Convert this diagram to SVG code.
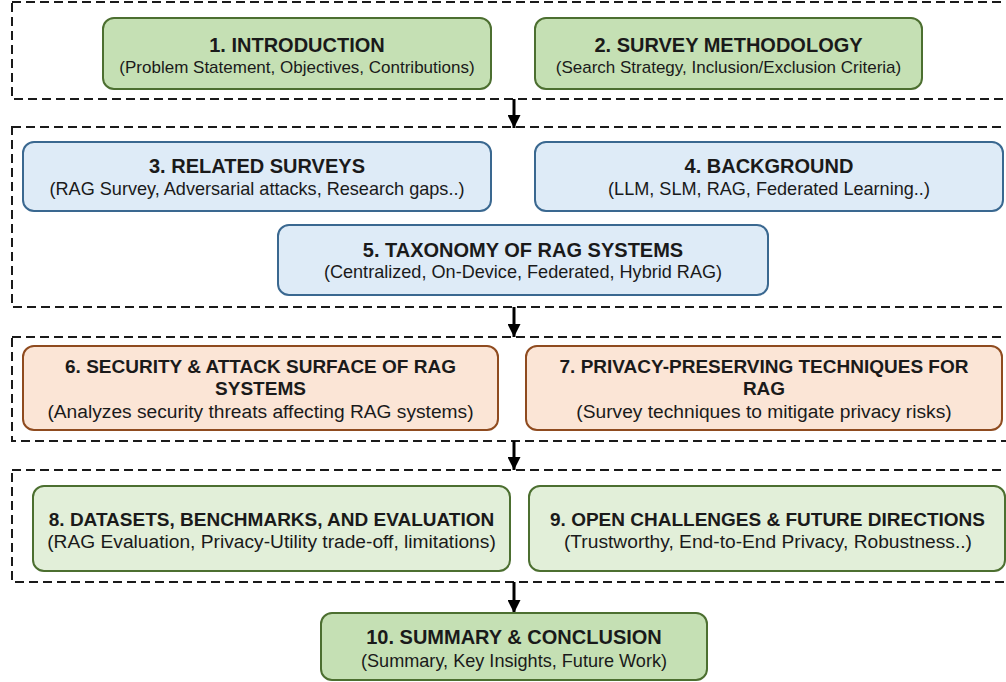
<svg xmlns="http://www.w3.org/2000/svg" width="1006" height="682" viewBox="0 0 1006 682">
<defs>
<style>
.grp{fill:none;stroke:#1a1a1a;stroke-width:2;stroke-dasharray:9,5}
.box{stroke-width:2}
.g1{fill:#c5e0b4;stroke:#4c6f30}
.g2{fill:#e2efd9;stroke:#4c6f30}
.bl{fill:#deebf7;stroke:#3a6890}
.or{fill:#fbe5d6;stroke:#8f4b1f}
text{font-family:"Liberation Sans",Arial,Helvetica,sans-serif;fill:#1a1a1a;text-anchor:middle}
.t{font-weight:bold;font-size:20px}
.t19{font-weight:bold;font-size:19px}
.s17{font-size:17px}
.s18{font-size:18.1px}
.s19{font-size:19.2px}
.arr{stroke:#000;stroke-width:3;fill:none;marker-end:url(#ah)}
</style>
<marker id="ah" viewBox="0 0 10 10" refX="10" refY="5" markerUnits="userSpaceOnUse" markerWidth="13" markerHeight="13" orient="auto">
<path d="M0,0 L10,5 L0,10 z" fill="#000"/>
</marker>
</defs>
<rect width="1006" height="682" fill="#fff"/>
<g id="containers">
<rect class="grp" x="12" y="2" width="1000" height="97"/>
<rect class="grp" x="12" y="127" width="1000" height="180"/>
<rect class="grp" x="12" y="337" width="1000" height="104"/>
<rect class="grp" x="12" y="470" width="1000" height="112"/>
</g>
<g id="connectors">
<line class="arr" x1="514" y1="99" x2="514" y2="128"/>
<line class="arr" x1="514" y1="307" x2="514" y2="337"/>
<line class="arr" x1="514" y1="441" x2="514" y2="470"/>
<line class="arr" x1="514" y1="582" x2="514" y2="613"/>
</g>
<g id="n1">
<rect class="box g1" x="103" y="18" width="388" height="71" rx="11"/>
<text class="t" x="297" y="51.5">1. INTRODUCTION</text>
<text class="s17" x="297" y="73">(Problem Statement, Objectives, Contributions)</text>
</g>
<g id="n2">
<rect class="box g1" x="535" y="18" width="387" height="71" rx="11"/>
<text class="t" x="728.5" y="51.5">2. SURVEY METHODOLOGY</text>
<text class="s17" x="728.5" y="73">(Search Strategy, Inclusion/Exclusion Criteria)</text>
</g>
<g id="n3">
<rect class="box bl" x="23" y="142" width="468" height="69" rx="11"/>
<text class="t" x="257" y="173">3. RELATED SURVEYS</text>
<text class="s18" x="257" y="195">(RAG Survey, Adversarial attacks, Research gaps..)</text>
</g>
<g id="n4">
<rect class="box bl" x="535" y="142" width="468" height="69" rx="11"/>
<text class="t" x="769" y="173">4. BACKGROUND</text>
<text class="s18" x="769" y="195">(LLM, SLM, RAG, Federated Learning..)</text>
</g>
<g id="n5">
<rect class="box bl" x="278" y="225" width="490" height="70" rx="11"/>
<text class="t" x="523" y="256.5">5. TAXONOMY OF RAG SYSTEMS</text>
<text class="s18" x="523" y="278">(Centralized, On-Device, Federated, Hybrid RAG)</text>
</g>
<g id="n6">
<rect class="box or" x="23" y="346" width="475" height="84" rx="11"/>
<text class="t19" x="260.5" y="373">6. SECURITY &amp; ATTACK SURFACE OF RAG</text>
<text class="t19" x="260.5" y="395">SYSTEMS</text>
<text class="s19" x="260.5" y="418">(Analyzes security threats affecting RAG systems)</text>
</g>
<g id="n7">
<rect class="box or" x="526" y="346" width="476" height="84" rx="11"/>
<text class="t19" x="764" y="373">7. PRIVACY-PRESERVING TECHNIQUES FOR</text>
<text class="t19" x="764" y="395">RAG</text>
<text class="s19" x="764" y="418">(Survey techniques to mitigate privacy risks)</text>
</g>
<g id="n8">
<rect class="box g2" x="33" y="486" width="477" height="85" rx="11"/>
<text class="t19" x="271.5" y="525.5">8. DATASETS, BENCHMARKS, AND EVALUATION</text>
<text class="s19" x="271.5" y="548">(RAG Evaluation, Privacy-Utility trade-off, limitations)</text>
</g>
<g id="n9">
<rect class="box g2" x="529" y="486" width="476" height="85" rx="11"/>
<text class="t19" x="767.5" y="525.5">9. OPEN CHALLENGES &amp; FUTURE DIRECTIONS</text>
<text class="s19" x="768" y="548">(Trustworthy, End-to-End Privacy, Robustness..)</text>
</g>
<g id="n10">
<rect class="box g1" x="321" y="613" width="386" height="67" rx="11"/>
<text class="t" x="514" y="644">10. SUMMARY &amp; CONCLUSION</text>
<text class="s18" x="514" y="667">(Summary, Key Insights, Future Work)</text>
</g>
</svg>
